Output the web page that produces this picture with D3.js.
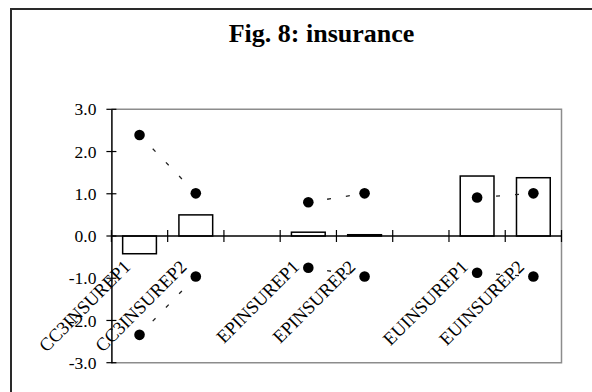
<!DOCTYPE html>
<html><head><meta charset="utf-8">
<script src="https://cdn.jsdelivr.net/npm/d3@7"></script>
<style>body{margin:0;background:#fff}svg{display:block}</style>
</head><body><svg id="c" width="592" height="392"></svg>
<script>
const categories = ["CC3INSUREP1","CC3INSUREP2","","EPINSUREP1","EPINSUREP2","","EUINSUREP1","EUINSUREP2"];
const barValues  = [-0.42, 0.50, null, 0.09, 0.03, null, 1.42, 1.38];
const upperValues = [2.39, 1.01, null, 0.80, 1.01, null, 0.91, 1.01];
const lowerValues = [-2.34, -0.96, null, -0.75, -0.96, null, -0.87, -0.96];
const yTicks = [-3, -2, -1, 0, 1, 2, 3];
const title = "Fig. 8: insurance";

const svg = d3.select("#c");
const L = 111.4, R = 561.5, T = 109.3, B = 362.7;
const font = "Liberation Serif, Times New Roman, serif";

// outer frame
svg.append("rect").attr("x",11).attr("y",9).attr("width",700).attr("height",500)
  .attr("fill","none").attr("stroke","#2a2a2a").attr("stroke-width",2);

svg.append("text").attr("x",321.5).attr("y",41.5).attr("text-anchor","middle")
  .style("font-family",font).attr("font-weight","bold").attr("font-size",26).text(title);

const idx = categories.map((d,i)=>i);
const x = d3.scaleBand().domain(idx).range([L,R]).paddingInner(0.4).paddingOuter(0.2);
const y = d3.scaleLinear().domain([-3,3]).range([B,T]);
const cx = i => x(i) + x.bandwidth()/2;

// plot border (gray)
svg.append("path").attr("d",`M${L},${T}H${R}V${B}H${L}`).attr("fill","none")
  .attr("stroke","#8c8c8c").attr("stroke-width",1.5);

// category labels
categories.forEach((c,i)=>{
  if(!c) return;
  const px = cx(i) - 8, py = y(0) + 32;
  svg.append("text").attr("transform",`translate(${px},${py}) rotate(-45)`)
    .attr("text-anchor","end").style("font-family",font).attr("font-size",18.5).text(c);
});

// bars
idx.forEach(i=>{
  const v = barValues[i];
  if(v===null) return;
  svg.append("rect").attr("x",x(i)).attr("width",x.bandwidth())
    .attr("y",y(Math.max(0,v))).attr("height",Math.abs(y(v)-y(0)))
    .attr("fill","#fff").attr("stroke","#000").attr("stroke-width",1.5);
});

// y axis
const yAxis = d3.axisLeft(y).tickValues(yTicks).tickSize(0).tickPadding(15)
  .tickFormat(d=>d3.format(".1f")(d).replace("−","-"));
const ya = svg.append("g").attr("transform",`translate(${L},0)`).call(yAxis);
ya.attr("font-family",null).attr("font-size",null);
ya.select(".domain").attr("stroke","#000").attr("stroke-width",1.5);
ya.selectAll("text").style("font-family",font).attr("font-size",17.5).attr("fill","#000");
yTicks.forEach(t=>{
  svg.append("line").attr("x1",L-5).attr("x2",L+5).attr("y1",y(t)).attr("y2",y(t))
    .attr("stroke","#000").attr("stroke-width",1.2);
});

// zero line with cross ticks
svg.append("line").attr("x1",L).attr("x2",R).attr("y1",y(0)).attr("y2",y(0))
  .attr("stroke","#000").attr("stroke-width",1.5);
for(let k=0;k<=categories.length;k++){
  const tx = L + x.step()*k;
  svg.append("line").attr("x1",tx).attr("x2",tx).attr("y1",y(0)-6).attr("y2",y(0)+6)
    .attr("stroke","#000").attr("stroke-width",1.2);
}

// dotted connecting lines + dots
[upperValues, lowerValues].forEach(vals=>{
  const line = d3.line().defined((d,i)=>vals[i]!==null).x((d,i)=>cx(i)).y(d=>y(d));
  svg.append("path").datum(vals).attr("d",line).attr("fill","none")
    .attr("stroke","#222").attr("stroke-width",1.3).attr("stroke-dasharray","4,15");
  vals.forEach((v,i)=>{
    if(v===null) return;
    svg.append("circle").attr("cx",cx(i)).attr("cy",y(v)).attr("r",5.3).attr("fill","#000");
  });
});
</script></body></html>
